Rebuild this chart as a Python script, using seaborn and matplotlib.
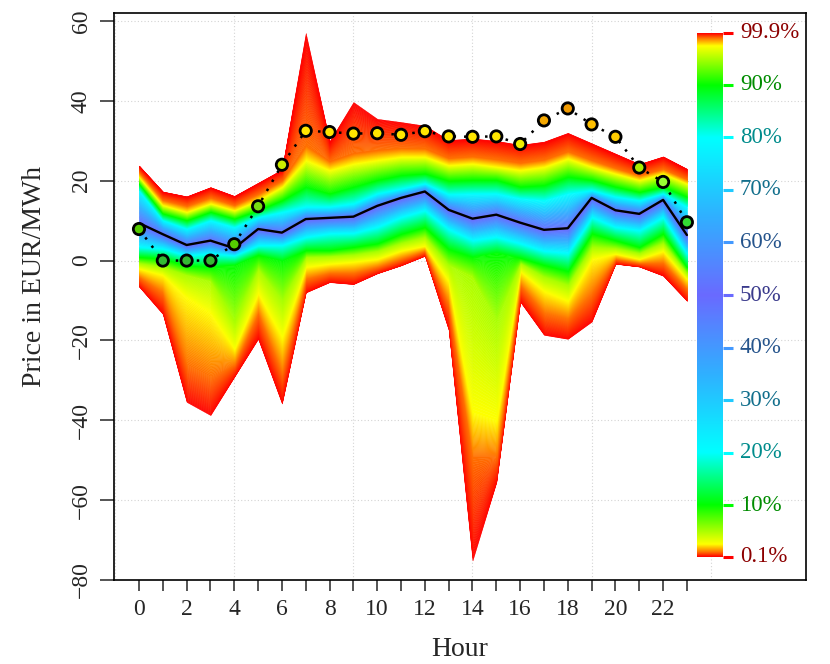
import numpy as np
import matplotlib
matplotlib.use("Agg")
import matplotlib.pyplot as plt
import seaborn as sns
from matplotlib.colors import LinearSegmentedColormap

# --- data (EUR/MWh per hour) ---
hours = list(range(24))

q999 = [23.8, 17.3, 16.1, 18.4, 16.2, 19.5, 22.8, 57.0, 29.9, 39.7, 35.5, 34.7,
        33.8, 30.2, 30.6, 30.0, 29.0, 29.8, 32.0, 29.4, 26.8, 24.2, 26.1, 23.0]
q99 = [22.3, 15.3, 13.8, 15.9, 14.0, 16.8, 20.2, 29.0, 25.0, 27.0, 27.8, 28.3,
       28.2, 25.8, 26.2, 25.5, 24.6, 25.4, 27.5, 25.3, 23.3, 21.5, 23.1, 20.5]
q975 = [21.1, 14.0, 12.3, 14.4, 12.7, 15.2, 18.6, 25.3, 22.8, 24.4, 25.3, 26.1,
        26.1, 24.0, 24.4, 23.6, 22.8, 23.6, 25.7, 23.6, 21.9, 20.3, 21.9, 19.4]
q90 = [19.4, 11.9, 10.2, 12.3, 10.6, 12.7, 15.2, 18.6, 16.9, 18.6, 20.3, 21.5,
       21.9, 20.1, 20.3, 20.3, 18.6, 19.0, 21.1, 20.3, 18.6, 17.3, 18.6, 16.1]
q80 = [17.7, 10.2, 8.1, 10.2, 8.5, 11.0, 12.3, 13.6, 13.6, 14.4, 16.9, 18.1,
       19.4, 16.7, 16.9, 16.9, 15.7, 15.2, 16.9, 17.7, 16.1, 15.2, 16.9, 13.6]
q50 = [9.4, 6.6, 3.9, 5.0, 3.1, 7.9, 7.0, 10.4, 10.7, 11.0, 13.7, 15.7,
       17.3, 12.7, 10.5, 11.5, 9.5, 7.7, 8.1, 15.7, 12.6, 11.7, 15.2, 6.4]
q20 = [3.5, 3.1, 1.4, 1.9, 1.4, 3.9, 4.0, 6.0, 6.9, 7.0, 8.5, 11.0,
       12.7, 8.0, 5.2, 6.0, 4.4, 2.5, 2.0, 11.0, 8.5, 7.7, 11.0, 1.9]
q10 = [1.0, 0.6, -1.1, -1.5, -1.0, 1.5, 0.0, 2.7, 2.7, 3.5, 4.4, 6.8,
       8.5, 3.0, 1.0, 2.0, 0.8, -1.0, -2.5, 6.9, 5.2, 3.5, 6.9, -1.5]
q05 = [-0.5, -1.5, -3.5, -5.0, -15.0, -2.0, -10.0, 1.0, 1.2, 1.6, 2.5, 4.5,
       6.0, -1.0, -4.0, -15.0, -0.5, -4.0, -6.0, 3.5, 3.2, 2.0, 4.5, -3.0]
q025 = [-1.9, -3.5, -9.0, -13.0, -22.0, -8.0, -19.0, -1.5, -0.7, -0.2, 0.5, 2.6,
        3.8, -5.0, -38.0, -40.0, -2.5, -7.5, -10.0, 0.5, 1.8, 0.5, 2.5, -4.5]
q01 = [-4.0, -8.0, -26.0, -29.0, -26.0, -13.0, -28.0, -4.5, -3.0, -3.0, -1.5, 0.5,
       2.5, -11.0, -49.0, -49.0, -6.0, -13.0, -14.5, -8.0, 0.5, -0.5, -0.5, -7.0]
q001 = [-6.5, -13.4, -35.4, -38.7, -29.1, -19.6, -35.8, -8.0, -5.4, -5.9, -3.2, -1.2,
        1.2, -17.4, -75.1, -55.5, -10.3, -18.6, -19.6, -15.3, -0.8, -1.5, -3.8, -10.1]

levels = [0.1, 1, 2.5, 5, 10, 20, 50, 80, 90, 97.5, 99, 99.9]
quantiles = [q001, q01, q025, q05, q10, q20, q50, q80, q90, q975, q99, q999]

actual = [7.9, 0.0, 0.0, 0.0, 4.1, 13.6, 24.0, 32.5, 32.2, 31.8, 31.9, 31.5,
          32.4, 31.1, 31.0, 31.1, 29.2, 35.1, 38.1, 34.1, 31.0, 23.3, 19.7, 9.6]
actual_colors = ["#55cc00", "#33bb33", "#33bb33", "#33bb33", "#55cc00", "#77dd11",
                 "#ccee00", "#ffe600", "#ffe600", "#ffe600", "#ffe600", "#ffe600",
                 "#ffe600", "#ffe600", "#ffe600", "#ffe600", "#eeee00", "#f5a800",
                 "#f09a00", "#ffc000", "#ffcc00", "#aaee00", "#99ff33", "#33dd33"]

cbar_ticks = [0.1, 10, 20, 30, 40, 50, 60, 70, 80, 90, 99.9]
cbar_labels = ["0.1%", "10%", "20%", "30%", "40%", "50%", "60%", "70%", "80%", "90%", "99.9%"]

# --- style ---
sns.set_style("white")
plt.rcParams["font.family"] = ["Liberation Serif", "DejaVu Serif"]

# fine lookup table so the thin outer tails (0.1-2.5 %) get a smooth ramp
fan_cmap = LinearSegmentedColormap.from_list("fan", [
    (0.0, "#ff0000"), (0.001, "#ff0000"), (0.01, "#ff7000"), (0.025, "#ffff00"),
    (0.10, "#00ff00"), (0.20, "#00ffff"), (0.35, "#30b0ff"), (0.50, "#6a6aff"),
    (0.65, "#30b0ff"), (0.80, "#00ffff"), (0.90, "#00ff00"), (0.975, "#ffff00"),
    (0.99, "#ff7000"), (0.999, "#ff0000"), (1.0, "#ff0000")], N=20000)

fig = plt.figure(figsize=(8.3, 6.64), dpi=100)
ax = fig.add_axes([0.1373, 0.1265, 0.9711 - 0.1373, 0.9804 - 0.1265])

# dotted background grid
for gx in [-1, 4, 9, 14, 19, 24]:
    ax.axvline(gx, color="#d4d4d4", ls=(0, (1, 2)), lw=0.8, zorder=0)
for gy in range(-80, 61, 20):
    ax.axhline(gy, color="#d4d4d4", ls=(0, (1, 2)), lw=0.8, zorder=0)

# fan: gradient between neighbouring quantile curves
x = np.array(hours)
n_sub = 40
for i in range(len(levels) - 1):
    lo = np.array(quantiles[i])
    hi = np.array(quantiles[i + 1])
    for k in range(n_sub):
        f0, f1 = k / n_sub, (k + 1) / n_sub
        p = levels[i] + (levels[i + 1] - levels[i]) * (k + 0.5) / n_sub
        c = fan_cmap(p / 100)
        ax.fill_between(x, lo + (hi - lo) * f0, lo + (hi - lo) * f1,
                        color=c, edgecolor=c, linewidth=0.3, zorder=1)

# median and realised prices
sns.lineplot(x=hours, y=q50, color="black", lw=1.7, ax=ax, zorder=3)
sns.lineplot(x=hours, y=actual, color="black", lw=1.8, ls=(0, (1, 3.2)), ax=ax, zorder=4)
hue_keys = [str(h) for h in hours]
sns.scatterplot(x=hours, y=actual, hue=hue_keys, hue_order=hue_keys, palette=actual_colors,
                s=66, edgecolor="black", linewidth=2.0, legend=False, ax=ax, zorder=5)

ax.set_xlim(-1.05, 28.0)
ax.set_ylim(-80, 62)
ax.set_xticks(hours)
ax.set_xticklabels([str(h) if h % 2 == 0 else "" for h in hours])
ax.set_yticks(range(-80, 61, 20))
ax.tick_params(axis="x", length=8, width=1.1, direction="out", labelsize=17, pad=6,
               bottom=True)
ax.tick_params(axis="y", length=10, width=1.1, direction="out", labelsize=17, pad=6,
               labelrotation=90, left=True)
for lbl in ax.get_yticklabels():
    lbl.set_va("center")
ax.set_xlabel("Hour", fontsize=20, labelpad=12)
ax.set_ylabel("Price in EUR/MWh", fontsize=20)
ax.yaxis.set_label_coords(-0.097, 0.535)
for sp in ax.spines.values():
    sp.set_color("black")
    sp.set_linewidth(1.2)
    sp.set_visible(True)

# colour key inside the panel
cax = fig.add_axes([697 / 830, (664 - 557) / 664, 26 / 830, 524 / 664])
grad = np.linspace(0.1, 99.9, 1200).reshape(-1, 1)
cax.imshow(grad, aspect="auto", cmap=fan_cmap, vmin=0, vmax=100, origin="lower",
           extent=[0, 1, 0.1, 99.9], interpolation="bilinear")
cax.set_xlim(0, 1)
cax.set_ylim(0.1, 99.9)
cax.axis("off")
for t, lab in zip(cbar_ticks, cbar_labels):
    c = np.array(fan_cmap(t / 100)[:3])
    cax.plot([1.0, 1.38], [t, t], color=c, lw=2.2, solid_capstyle="butt", clip_on=False)
    cax.text(1.65, t, lab, color=c * 0.55, fontsize=16.5, va="center", ha="left", clip_on=False)

fig.savefig("out.png", dpi=100)
plt.close(fig)
